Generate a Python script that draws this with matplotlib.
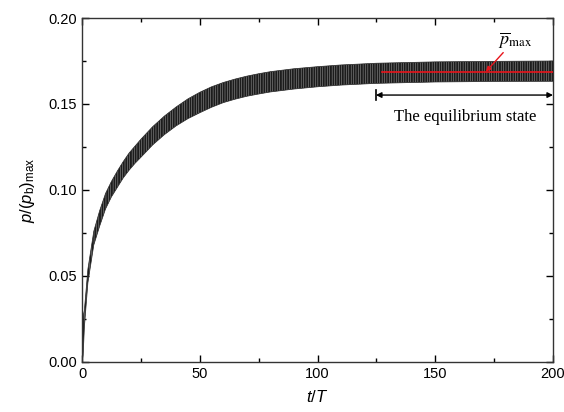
import numpy as np
import matplotlib
matplotlib.use("Agg")
import matplotlib.pyplot as plt
from matplotlib.ticker import MultipleLocator

# envelope of the oscillating pressure (t/T, upper, lower)
t_env = [0, 0.5, 1, 2.5, 5, 7.5, 10, 12.5, 15, 17.5, 20, 22.5, 25, 30, 35, 40, 45, 50, 55,
         60, 65, 70, 75, 80, 90, 100, 110, 125, 150, 175, 200]
p_upper = [0.0, 0.027, 0.030, 0.054, 0.076, 0.088, 0.098, 0.105, 0.111, 0.1165, 0.1215, 0.1255,
           0.1295, 0.1368, 0.1430, 0.1483, 0.1530, 0.1568, 0.1600, 0.1625, 0.1645, 0.1662,
           0.1676, 0.1688, 0.1705, 0.1717, 0.1727, 0.1737, 0.1745, 0.1748, 0.1750]
p_lower = [0.0, 0.004, 0.020, 0.046, 0.068, 0.079, 0.089, 0.096, 0.1015, 0.107, 0.1115, 0.1155,
           0.119, 0.1262, 0.1322, 0.1373, 0.1415, 0.1449, 0.1481, 0.1508, 0.1528, 0.1545,
           0.1558, 0.1570, 0.1587, 0.1600, 0.1610, 0.1620, 0.1628, 0.1631, 0.1632]

# mean max pressure in equilibrium
p_mean_max = 0.1688
eq_start = 127.3
eq_arrow_start = 124.8

plt.rcParams['font.family'] = ['Liberation Sans', 'DejaVu Sans']
plt.rcParams['mathtext.fontset'] = 'custom'
plt.rcParams['mathtext.rm'] = 'Liberation Sans'
plt.rcParams['mathtext.it'] = 'Liberation Sans:italic'
plt.rcParams['hatch.linewidth'] = 0.35

fig = plt.figure(figsize=(5.64, 4.12), dpi=100)
ax = fig.add_axes([0.1454, 0.1214, 0.8351, 0.8349])

# the dense oscillation band
ax.fill_between(t_env, p_lower, p_upper, facecolor='#1c1c1c', edgecolor='#a0a0a0',
                hatch='|||||||', linewidth=0, zorder=2)
ax.plot(t_env, p_upper, color='#2a2a2a', lw=0.5, zorder=2)
ax.plot(t_env, p_lower, color='#2a2a2a', lw=0.5, zorder=2)

# mean line in red
ax.plot([eq_start, 200], [p_mean_max, p_mean_max], color='#e8141b', lw=1.2, zorder=3)

# label for the mean value
ax.annotate(r'$\overline{p}_{\rm max}$', xy=(171.5, p_mean_max), xytext=(176.5, 0.1815),
            fontsize=13, math_fontfamily='stix', color='black', ha='left', va='bottom',
            arrowprops=dict(arrowstyle='-|>', color='#e8141b', lw=1.0,
                            mutation_scale=7, shrinkA=0, shrinkB=0))

# equilibrium range arrow
ax.annotate('', xy=(200, 0.1552), xytext=(eq_arrow_start, 0.1552),
            arrowprops=dict(arrowstyle='<|-|>', color='black', lw=1.0,
                            mutation_scale=8, shrinkA=0, shrinkB=0))
ax.plot([eq_arrow_start, eq_arrow_start], [0.1525, 0.158], color='black', lw=1.2)
ax.text(162.5, 0.1425, 'The equilibrium state', family=['Liberation Serif'],
        fontsize=12, ha='center', va='center')

ax.set_xlim(0, 200)
ax.set_ylim(0, 0.20)
ax.xaxis.set_major_locator(MultipleLocator(50))
ax.xaxis.set_minor_locator(MultipleLocator(25))
ax.yaxis.set_major_locator(MultipleLocator(0.05))
ax.yaxis.set_minor_locator(MultipleLocator(0.025))
ax.yaxis.set_major_formatter(matplotlib.ticker.FormatStrFormatter('%.2f'))
ax.tick_params(which='both', direction='in', top=True, right=True, labelsize=10.5, width=1.0)
ax.tick_params(which='major', length=5)
ax.tick_params(which='minor', length=3)
for s in ax.spines.values():
    s.set_linewidth(1.0)
    s.set_color('#333333')

ax.set_xlabel(r'$t/T$', fontsize=12, labelpad=6)
ax.set_ylabel(r'$p/(p_{\rm b})_{\rm max}$', fontsize=12, labelpad=8)

fig.savefig('out.png', dpi=100)
